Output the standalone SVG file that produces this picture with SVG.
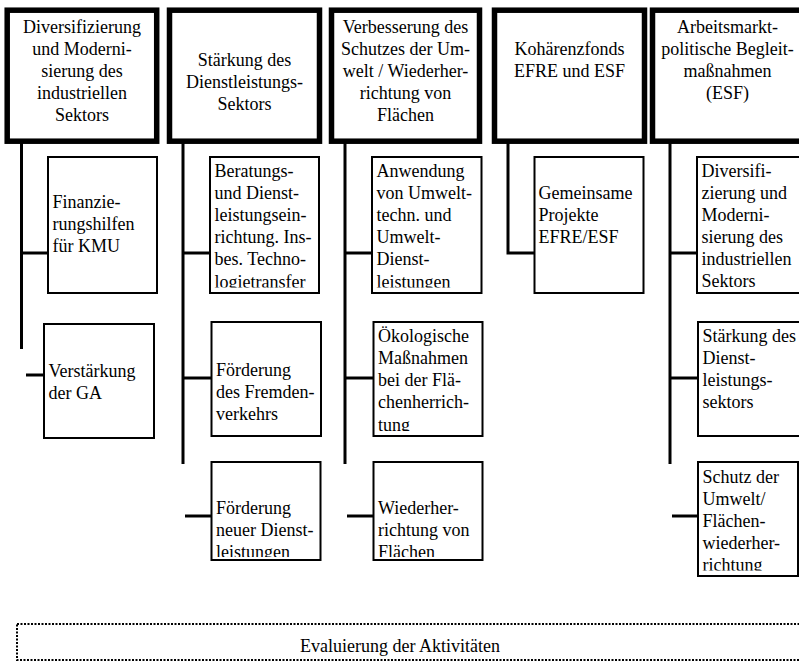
<svg xmlns="http://www.w3.org/2000/svg" width="799" height="662" viewBox="0 0 799 662" font-family="'Liberation Serif', 'Times New Roman', Times, 'DejaVu Serif', serif">
<style>
text{font-family:'Liberation Serif','Times New Roman',Times,'DejaVu Serif',serif;font-size:18px;fill:#000}
.h{fill:#fff;stroke:#000;stroke-width:5.5}
.b{fill:#fff;stroke:#000;stroke-width:2}
.c line,.c path{stroke:#000;stroke-width:3;fill:none}
.m{text-anchor:middle}
</style>
<defs>
<clipPath id="cB1"><rect x="211" y="158" width="107" height="129.5"/></clipPath>
<clipPath id="cC1"><rect x="373" y="158" width="107.5" height="129.5"/></clipPath>
<clipPath id="cC2"><rect x="374.5" y="323" width="107" height="108"/></clipPath>
<clipPath id="cB3"><rect x="212.5" y="463" width="107" height="94"/></clipPath>
<clipPath id="cC3"><rect x="374.5" y="463" width="107" height="94"/></clipPath>
<clipPath id="cE3"><rect x="699" y="463" width="98" height="107.5"/></clipPath>
</defs>
<g id="connectors" class="c">
<line x1="21.5" y1="143" x2="21.5" y2="349"/>
<line x1="21.5" y1="253" x2="48" y2="253"/>
<line x1="26" y1="375" x2="44" y2="375"/>
<line x1="183" y1="143" x2="183" y2="464"/>
<line x1="183" y1="253" x2="210" y2="253"/>
<line x1="183" y1="378" x2="211.5" y2="378"/>
<line x1="185" y1="516" x2="211.5" y2="516"/>
<line x1="345" y1="143" x2="345" y2="464"/>
<line x1="345" y1="253" x2="372" y2="253"/>
<line x1="345" y1="378" x2="373.5" y2="378"/>
<line x1="347" y1="516" x2="373.5" y2="516"/>
<path d="M508,143 V253 H534.5"/>
<line x1="670" y1="143" x2="670" y2="464"/>
<line x1="670" y1="253" x2="697" y2="253"/>
<line x1="670" y1="378" x2="698" y2="378"/>
<line x1="672" y1="516" x2="698" y2="516"/>
</g>
<g id="h1"><rect class="h" x="7.2" y="10.2" width="149.5" height="131"/>
<text class="m" x="82" y="33">Diversifizierung</text><text class="m" x="82" y="55">und Moderni-</text><text class="m" x="82" y="77">sierung des</text><text class="m" x="82" y="99">industriellen</text><text class="m" x="82" y="121">Sektors</text></g>
<g id="h2"><rect class="h" x="169.5" y="10.2" width="150" height="131"/>
<text class="m" x="244.5" y="66">Stärkung des</text><text class="m" x="244.5" y="88">Dienstleistungs-</text><text class="m" x="244.5" y="110">Sektors</text></g>
<g id="h3"><rect class="h" x="331.5" y="10.2" width="148" height="131"/>
<text class="m" x="405.5" y="33">Verbesserung des</text><text class="m" x="405.5" y="55">Schutzes der Um-</text><text class="m" x="405.5" y="77">welt / Wiederher-</text><text class="m" x="405.5" y="99">richtung von</text><text class="m" x="405.5" y="121">Flächen</text></g>
<g id="h4"><rect class="h" x="494.5" y="10.2" width="150" height="131"/>
<text class="m" x="569.5" y="55">Kohärenzfonds</text><text class="m" x="569.5" y="77">EFRE und ESF</text></g>
<g id="h5"><rect class="h" x="652.5" y="10.2" width="150" height="131"/>
<text class="m" x="727.5" y="33">Arbeitsmarkt-</text><text class="m" x="727.5" y="55">politische Begleit-</text><text class="m" x="727.5" y="77">maßnahmen</text><text class="m" x="727.5" y="99">(ESF)</text></g>
<g id="a1"><rect class="b" x="48" y="157" width="109" height="136"/>
<text x="52.5" y="208">Finanzie-</text><text x="52.5" y="230">rungshilfen</text><text x="52.5" y="252">für KMU</text></g>
<g id="a2"><rect class="b" x="44" y="324" width="110" height="114"/>
<text x="48.5" y="377">Verstärkung</text><text x="48.5" y="399">der GA</text></g>
<g id="b1"><rect class="b" x="210" y="157" width="109" height="136"/>
<g clip-path="url(#cB1)"><text x="214.5" y="177">Beratungs-</text><text x="214.5" y="199">und Dienst-</text><text x="214.5" y="221">leistungsein-</text><text x="214.5" y="243">richtung. Ins-</text><text x="214.5" y="265">bes. Techno-</text><text x="214.5" y="288">logietransfer</text></g></g>
<g id="b2"><rect class="b" x="211.5" y="322" width="109.5" height="114"/>
<text x="216" y="376">Förderung</text><text x="216" y="398">des Fremden-</text><text x="216" y="420">verkehrs</text></g>
<g id="b3"><rect class="b" x="211.5" y="462" width="109" height="98"/>
<g clip-path="url(#cB3)"><text x="216" y="514">Förderung</text><text x="216" y="536">neuer Dienst-</text><text x="216" y="558">leistungen</text></g></g>
<g id="c1"><rect class="b" x="372" y="157" width="109.5" height="136"/>
<g clip-path="url(#cC1)"><text x="376.5" y="177">Anwendung</text><text x="376.5" y="199">von Umwelt-</text><text x="376.5" y="221">techn. und</text><text x="376.5" y="243">Umwelt-</text><text x="376.5" y="265">Dienst-</text><text x="376.5" y="288">leistungen</text></g></g>
<g id="c2"><rect class="b" x="373.5" y="322" width="109" height="114"/>
<g clip-path="url(#cC2)"><text x="378" y="342">Ökologische</text><text x="378" y="364">Maßnahmen</text><text x="378" y="386">bei der Flä-</text><text x="378" y="408">chenherrich-</text><text x="378" y="431">tung</text></g></g>
<g id="c3"><rect class="b" x="373.5" y="462" width="109" height="98"/>
<g clip-path="url(#cC3)"><text x="378" y="514">Wiederher-</text><text x="378" y="536">richtung von</text><text x="378" y="558">Flächen</text></g></g>
<g id="d1"><rect class="b" x="534.5" y="157" width="109" height="136"/>
<text x="538.5" y="199">Gemeinsame</text><text x="538.5" y="221">Projekte</text><text x="538.5" y="243">EFRE/ESF</text></g>
<g id="e1"><rect class="b" x="697" y="157" width="110" height="136"/>
<text x="701.5" y="177">Diversifi-</text><text x="701.5" y="199">zierung und</text><text x="701.5" y="221">Moderni-</text><text x="701.5" y="243">sierung des</text><text x="701.5" y="265">industriellen</text><text x="701.5" y="287">Sektors</text></g>
<g id="e2"><rect class="b" x="698" y="322" width="110" height="114"/>
<text x="702.5" y="342">Stärkung des</text><text x="702.5" y="364">Dienst-</text><text x="702.5" y="386">leistungs-</text><text x="702.5" y="408">sektors</text></g>
<g id="e3"><rect class="b" x="698" y="462" width="100" height="114"/>
<g clip-path="url(#cE3)"><text x="702.5" y="483">Schutz der</text><text x="702.5" y="505">Umwelt/</text><text x="702.5" y="527">Flächen-</text><text x="702.5" y="549">wiederher-</text><text x="702.5" y="571">richtung</text></g></g>
<g id="eval"><rect x="17" y="624" width="800" height="36" fill="#fff" stroke="#000" stroke-width="2" stroke-dasharray="2 1.5"/>
<text class="m" x="400" y="652">Evaluierung der Aktivitäten</text></g>
</svg>
